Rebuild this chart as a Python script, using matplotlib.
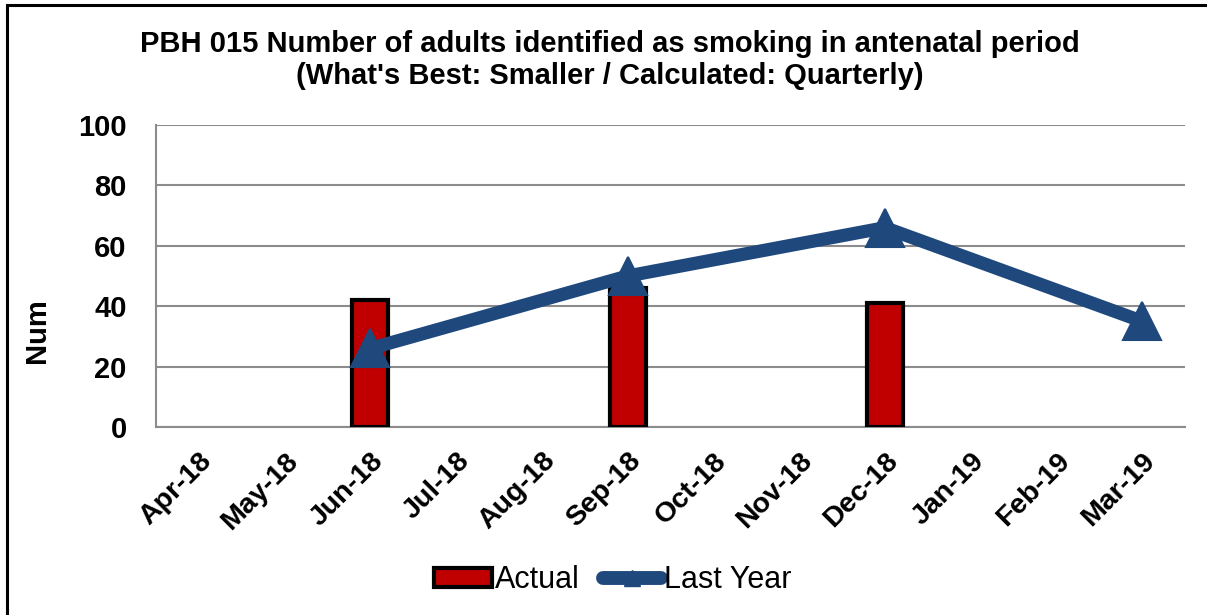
import matplotlib
matplotlib.use("Agg")
import matplotlib.pyplot as plt
from matplotlib.patches import Rectangle
from matplotlib.lines import Line2D

plt.rcParams['font.family'] = ['Liberation Sans', 'DejaVu Sans']

months = ["Apr-18", "May-18", "Jun-18", "Jul-18", "Aug-18", "Sep-18",
          "Oct-18", "Nov-18", "Dec-18", "Jan-19", "Feb-19", "Mar-19"]
actual_months = ["Jun-18", "Sep-18", "Dec-18"]
actual_values = [42, 46, 41]
last_year_months = ["Jun-18", "Sep-18", "Dec-18", "Mar-19"]
last_year_values = [26, 50, 66, 35]

title = ("PBH 015 Number of adults identified as smoking in antenatal period\n"
         "(What's Best: Smaller / Calculated: Quarterly)")

W, H = 1207, 615
fig = plt.figure(figsize=(W / 100, H / 100), dpi=100)

# outer frame (left and top visible)
fig.patches.append(Rectangle((7 / W, -0.1), 1.2, (H - 5) / H + 0.1,
                             transform=fig.transFigure, fill=False,
                             edgecolor='black', linewidth=2.2))

ax = fig.add_axes([156 / W, (H - 427) / H, (1185 - 156) / W, (427 - 125) / H])

idx = {m: i for i, m in enumerate(months)}
ax.bar([idx[m] for m in actual_months], actual_values, width=0.42,
       color='#C00000', edgecolor='black', linewidth=3.0, zorder=3)
ax.plot([idx[m] for m in last_year_months], last_year_values, color='#1F497D',
        linewidth=9.5, marker='^', markersize=27, markeredgewidth=1.5,
        markeredgecolor='#1F497D', solid_joinstyle='round',
        solid_capstyle='round', zorder=4)

ax.set_xlim(-0.5, len(months) - 0.5)
ax.set_ylim(0, 100)
ax.set_yticks(range(0, 101, 20))
ax.set_xticks(range(len(months)))
ax.set_xticklabels(months, rotation=45, ha='right', rotation_mode='anchor',
                   fontsize=20.5, fontweight='bold')
for lab in ax.get_yticklabels():
    lab.set_fontsize(21)
    lab.set_fontweight('bold')
ax.tick_params(axis='y', length=0, pad=21)
ax.tick_params(axis='x', length=0, pad=15)
ax.grid(axis='y', color='#8C8C8C', linewidth=1.5, zorder=0)
for s in ['top', 'right']:
    ax.spines[s].set_visible(False)
for s in ['left', 'bottom']:
    ax.spines[s].set_color('#8C8C8C')
    ax.spines[s].set_linewidth(1.5)

fig.text(37 / W, 1 - 331 / H, "Num", rotation=90, ha='center', va='center',
         fontsize=21, fontweight='bold')

fig.text(610 / W, 1 - 60 / H, title, ha='center', va='center',
         fontsize=21, fontweight='bold', linespacing=1.15)

handles = [Rectangle((0, 0), 1, 1, facecolor='#C00000', edgecolor='black', linewidth=3),
           Line2D([0], [0], color='#1F497D', linewidth=10, marker='^',
                  markersize=12, solid_capstyle='round')]
fig.legend(handles, ["Actual", "Last Year"], loc='center',
           bbox_to_anchor=(613 / W, 1 - 580 / H), ncol=2, frameon=False,
           fontsize=22, handlelength=1.9, handleheight=0.6, handletextpad=0.1,
           columnspacing=0.75, borderpad=0.2)

fig.savefig("out.png", dpi=100)
